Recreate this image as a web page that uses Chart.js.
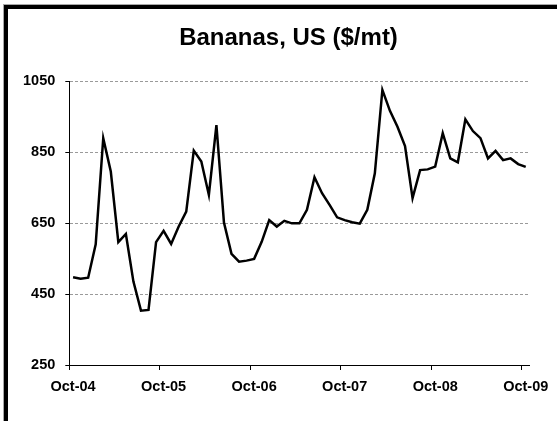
<!DOCTYPE html>
<html>
<head>
<meta charset="utf-8">
<script src="https://cdn.jsdelivr.net/npm/chart.js@4"></script>
<style>
  html, body { margin: 0; padding: 0; background: #fff; overflow: hidden; }
  #wrap { position: relative; width: 557px; height: 421px; }
  canvas { position: absolute; left: 0; top: 0; }
  #frameOuter { position: absolute; left: 3px; top: 4px; right: -10px; bottom: -10px;
    border-left: 1px solid #a8a8a8; border-top: 1px solid #a8a8a8; pointer-events: none; }
  #frameInner { position: absolute; left: 0; top: 0; right: 0; bottom: 0;
    border-left: 4px solid #000; border-top: 4px solid #000; pointer-events: none; }
</style>
</head>
<body>
<div id="wrap">
  <canvas id="c" width="557" height="421"></canvas>
  <div id="frameOuter"><div id="frameInner"></div></div>
</div>
<script>
const titleText = 'Bananas, US ($/mt)';

const categories = [
  'Oct-04','Nov-04','Dec-04','Jan-05','Feb-05','Mar-05','Apr-05','May-05','Jun-05','Jul-05','Aug-05','Sep-05',
  'Oct-05','Nov-05','Dec-05','Jan-06','Feb-06','Mar-06','Apr-06','May-06','Jun-06','Jul-06','Aug-06','Sep-06',
  'Oct-06','Nov-06','Dec-06','Jan-07','Feb-07','Mar-07','Apr-07','May-07','Jun-07','Jul-07','Aug-07','Sep-07',
  'Oct-07','Nov-07','Dec-07','Jan-08','Feb-08','Mar-08','Apr-08','May-08','Jun-08','Jul-08','Aug-08','Sep-08',
  'Oct-08','Nov-08','Dec-08','Jan-09','Feb-09','Mar-09','Apr-09','May-09','Jun-09','Jul-09','Aug-09','Sep-09',
  'Oct-09'
];

const bananaPrices = [
  497, 493, 496, 590, 889, 795, 596, 619, 485, 403, 405, 596,
  628, 591, 640, 682, 854, 823, 729, 926, 651, 563, 541, 544,
  549, 597, 658, 640, 656, 649, 649, 687, 779, 734, 701, 666,
  658, 652, 648, 687, 790, 1025, 966, 921, 867, 720, 799, 801,
  809, 903, 832, 821, 942, 909, 889, 832, 853, 827, 832, 816,
  808
];

const xTickLabels = ['Oct-04', 'Oct-05', 'Oct-06', 'Oct-07', 'Oct-08', 'Oct-09'];
const yTickValues = [250, 450, 650, 850, 1050];

const FONT = "'Liberation Sans', Arial, sans-serif";

new Chart(document.getElementById('c'), {
  type: 'line',
  data: {
    labels: categories,
    datasets: [{
      data: bananaPrices,
      borderColor: '#000',
      borderWidth: 2.5,
      pointRadius: 0,
      tension: 0,
      fill: false,
      yAxisID: 'y'
    }]
  },
  options: {
    responsive: false,
    devicePixelRatio: 1,
    animation: false,
    events: [],
    layout: { padding: { left: 20, right: 0, top: 0, bottom: 0 } },
    plugins: {
      legend: { display: false },
      tooltip: { enabled: false },
      title: {
        display: true,
        text: titleText,
        color: '#000',
        font: { family: FONT, size: 24, weight: 'bold', lineHeight: 1.2 },
        padding: { top: 24, bottom: 28.2 }
      }
    },
    scales: {
      x: {
        type: 'category',
        offset: true,
        grid: {
          offset: true,
          drawOnChartArea: false,
          drawTicks: true,
          tickLength: 5,
          color: 'transparent',
          tickColor: (ctx) => (ctx.index % 12 === 0 && ctx.index < categories.length) ? '#000' : 'transparent',
          tickWidth: 1
        },
        border: { display: true, color: '#000', width: 1 },
        ticks: {
          autoSkip: false,
          maxRotation: 0,
          minRotation: 0,
          padding: 8,
          color: '#000',
          font: { family: FONT, size: 14.5, weight: 'bold' },
          callback: function (value, index) {
            const lab = categories[index];
            return xTickLabels.includes(lab) ? lab : '';
          }
        },
        afterFit: (scale) => {
          scale.height = 56;
          scale.paddingLeft = 0;
          scale.paddingRight = 0;
        }
      },
      y: {
        position: 'left',
        min: 250,
        max: 1050,
        afterBuildTicks: (scale) => {
          scale.ticks = yTickValues.map(v => ({ value: v }));
        },
        grid: {
          drawOnChartArea: true,
          drawTicks: true,
          tickLength: 4,
          color: (ctx) => (ctx.tick && ctx.tick.value === 250) ? 'transparent' : '#9a9a9a',
          tickColor: '#000',
          tickWidth: 1,
          lineWidth: 1
        },
        border: { display: true, color: '#000', width: 1, dash: [3, 2] },
        ticks: {
          padding: 10,
          color: '#000',
          font: { family: FONT, size: 14.5, weight: 'bold' },
          callback: (value) => String(value)
        },
        afterFit: (scale) => {
          scale.width = 49.3;
          scale.paddingTop = 0;
          scale.paddingBottom = 0;
        }
      },
      yRight: {
        type: 'linear',
        position: 'right',
        min: 0,
        max: 1,
        grid: { display: false, drawOnChartArea: false, drawTicks: false },
        border: { display: false },
        ticks: { display: false },
        afterFit: (scale) => {
          scale.width = 27.5;
          scale.paddingTop = 0;
          scale.paddingBottom = 0;
        }
      }
    }
  }
});
</script>
</body>
</html>
